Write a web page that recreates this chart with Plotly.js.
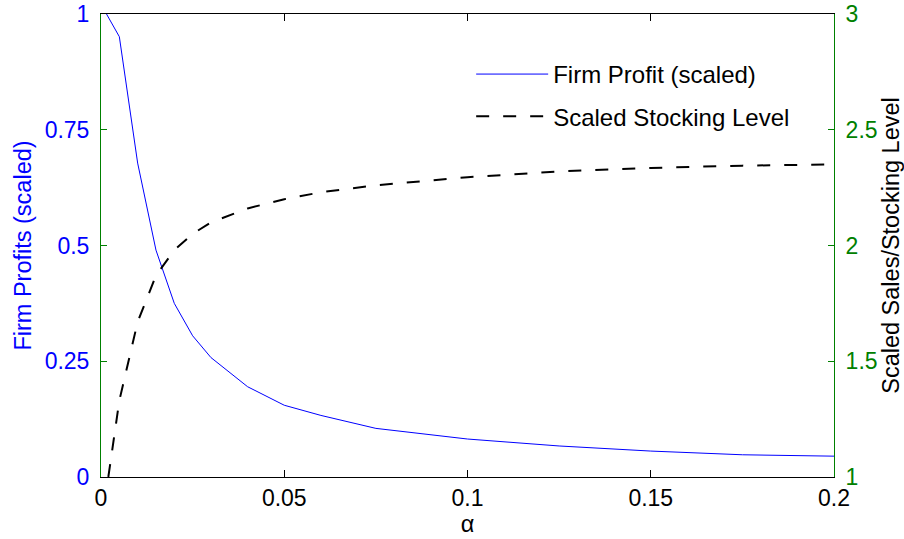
<!DOCTYPE html>
<html><head><meta charset="utf-8">
<script src="https://cdn.plot.ly/plotly-3.0.1.min.js"></script>
<style>body{margin:0;background:#fff}</style></head>
<body><div id="chart" style="width:904px;height:539px"></div>
<script>
// data
const alphaProfit = [0.0015, 0.005, 0.01, 0.015, 0.02, 0.025, 0.03, 0.04, 0.05, 0.06, 0.075, 0.1, 0.125, 0.15, 0.175, 0.2];
const firmProfit  = [1.0, 0.951, 0.678, 0.490, 0.375, 0.305, 0.258, 0.195, 0.155, 0.133, 0.105, 0.082, 0.067, 0.056, 0.048, 0.045];
const alphaStock  = [0.002, 0.005, 0.01, 0.015, 0.02, 0.025, 0.03, 0.04, 0.05, 0.06, 0.075, 0.1, 0.125, 0.15, 0.175, 0.2];
const stockLevel  = [1.0, 1.33, 1.67, 1.87, 1.98, 2.05, 2.10, 2.16, 2.20, 2.23, 2.26, 2.295, 2.32, 2.335, 2.345, 2.35];
const xTicks = [0, 0.05, 0.1, 0.15, 0.2];
const xTickText = ['0', '0.05', '0.1', '0.15', '0.2'];
const yLeftTicks = [0, 0.25, 0.5, 0.75, 1];
const yLeftText = ['0', '0.25', '0.5', '0.75', '1'];
const yRightTicks = [1, 1.5, 2, 2.5, 3];
const yRightText = ['1', '1.5', '2', '2.5', '3'];

const FONT = '"Liberation Sans", Arial, sans-serif';
const FS = 23;
const FT = 23.5;
const FL = 24;
const GREEN = '#008000';
const BLUE = '#0000ff';

const traces = [
  {x: alphaProfit, y: firmProfit, type: 'scatter', mode: 'lines', name: 'Firm Profit (scaled)',
   line: {color: BLUE, width: 1}, yaxis: 'y', legendgroup: 'a'},
  {x: alphaStock, y: stockLevel, type: 'scatter', mode: 'lines', name: 'Scaled Stocking Level',
   line: {color: '#000000', width: 2, dash: '13px,14px'}, yaxis: 'y2', legendgroup: 'b'}
];

const layout = {
  width: 904, height: 539,
  margin: {l: 101, r: 70, t: 14, b: 62, pad: 0},
  paper_bgcolor: '#ffffff', plot_bgcolor: '#ffffff',
  font: {family: FONT, size: FS, color: '#000000'},
  showlegend: true,
  legend: {x: 0.505, y: 0.918, xanchor: 'left', yanchor: 'top', bgcolor: 'rgba(0,0,0,0)',
           borderwidth: 0, font: {family: FONT, size: FL, color: '#000'},
           traceorder: 'grouped', tracegroupgap: 8, itemwidth: 72},
  xaxis: {range: [0, 0.2], tickvals: xTicks, ticktext: xTickText, ticks: 'inside', ticklen: 7,
          tickcolor: '#000', showline: true, linecolor: '#000', linewidth: 1, mirror: 'ticks',
          showgrid: false, zeroline: false, tickfont: {family: FONT, size: FS, color: '#000'},
          title: {text: 'α', font: {family: FONT, size: FT, color: '#000'}, standoff: 4}},
  yaxis: {range: [0, 1], tickvals: yLeftTicks, ticktext: yLeftText, ticks: 'inside', ticklen: 6,
          tickcolor: GREEN, showline: true, linecolor: GREEN, linewidth: 1, mirror: true,
          showgrid: false, zeroline: false, ticklabelstandoff: 6,
          tickfont: {family: FONT, size: FS, color: BLUE},
          title: {text: 'Firm Profits (scaled)', font: {family: FONT, size: FT, color: BLUE}, standoff: 6}},
  yaxis2: {range: [1, 3], tickvals: yRightTicks, ticktext: yRightText, ticks: 'inside', ticklen: 6,
           tickcolor: GREEN, showline: true, linecolor: GREEN, linewidth: 1,
           overlaying: 'y', side: 'right', showgrid: false, zeroline: false, ticklabelstandoff: 6,
           tickfont: {family: FONT, size: FS, color: GREEN},
           title: {text: 'Scaled Sales/Stocking Level', font: {family: FONT, size: FT, color: '#000'}, standoff: 10}}
};

Plotly.newPlot('chart', traces, layout, {displayModeBar: false, staticPlot: true});
</script></body></html>
